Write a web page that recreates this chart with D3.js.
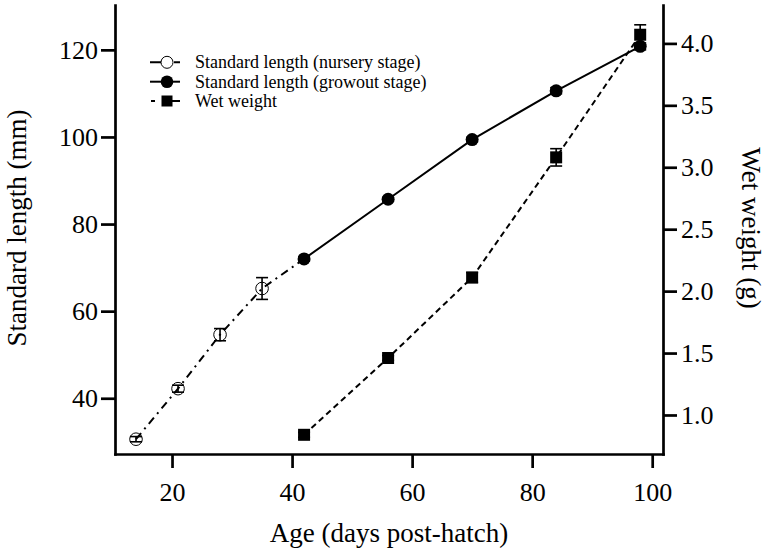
<!DOCTYPE html>
<html>
<head>
<meta charset="utf-8">
<script src="https://cdn.jsdelivr.net/npm/d3@7"></script>
<style>
  body { margin: 0; background: #fff; }
</style>
</head>
<body>
<svg id="chart" width="767" height="552"></svg>
<script>
// values
const nurseryDays = [14, 21, 28, 35];
const nurseryLength = [30.6, 42.2, 54.6, 65.2];
const nurseryErr = [0.6, 0.8, 1.4, 2.5];

const growoutDays = [42, 56, 70, 84, 98];
const growoutLength = [72.0, 85.7, 99.4, 110.6, 120.8];
const growoutErr = [0.5, 0.4, 0.5, 0.7, 0.8];

const weightDays = [42, 56, 70, 84, 98];
const wetWeight = [0.84, 1.46, 2.11, 3.08, 4.07];
const weightErr = [0.02, 0.02, 0.04, 0.07, 0.08];

const xTicks = [20, 40, 60, 80, 100];
const lengthTicks = [40, 60, 80, 100, 120];
const weightTicks = [1.0, 1.5, 2.0, 2.5, 3.0, 3.5, 4.0];

const legendLabels = [
  'Standard length (nursery stage)',
  'Standard length (growout stage)',
  'Wet weight'
];

const FONT = "'Liberation Serif', 'Times New Roman', Tinos, 'DejaVu Serif', serif";

const svg = d3.select('#chart').attr('font-family', FONT);
const plotL = 115, plotR = 663, plotT = 5, plotB = 454;

const x = d3.scaleLinear().domain([10.5, 101.8]).range([plotL, plotR]);
const yL = d3.scaleLinear().domain([27.2, 130.3]).range([plotB, plotT]);
const yR = d3.scaleLinear().domain([0.685, 4.31]).range([plotB, plotT]);

const zip = (xs, ys, es) => xs.map((d, i) => ({ x: d, y: ys[i], e: es[i] }));
const nursery = zip(nurseryDays, nurseryLength, nurseryErr);
const growout = zip(growoutDays, growoutLength, growoutErr);
const weight = zip(weightDays, wetWeight, weightErr);

function styleAxis(g, fontSize) {
  g.attr('font-family', FONT).attr('font-size', fontSize);
  g.select('.domain').attr('stroke-width', 2.7).attr('stroke-linecap', 'square');
  g.selectAll('.tick line').attr('stroke-width', 2.7);
  g.selectAll('.tick text').attr('font-family', FONT).attr('font-size', fontSize);
}

// axes
svg.append('g')
  .attr('transform', `translate(0,${plotB})`)
  .call(d3.axisBottom(x).tickValues(xTicks).tickSize(14).tickSizeOuter(0).tickPadding(14.5))
  .call(g => styleAxis(g, 26));

svg.append('g')
  .attr('transform', `translate(${plotL},0)`)
  .call(d3.axisLeft(yL).tickValues(lengthTicks).tickSize(14).tickSizeOuter(0).tickPadding(3))
  .call(g => styleAxis(g, 26));

svg.append('g')
  .attr('transform', `translate(${plotR},0)`)
  .call(d3.axisRight(yR).tickValues(weightTicks).tickSize(14).tickSizeOuter(0).tickPadding(4)
    .tickFormat(d3.format('.1f')))
  .call(g => styleAxis(g, 26));

// axis titles
svg.append('text')
  .attr('x', (plotL + plotR) / 2).attr('y', 542)
  .attr('text-anchor', 'middle').attr('font-size', 27).attr('font-family', FONT)
  .text('Age (days post-hatch)');

svg.append('text')
  .attr('transform', 'translate(26,228) rotate(-90)')
  .attr('text-anchor', 'middle').attr('font-size', 27).attr('font-family', FONT)
  .text('Standard length (mm)');

svg.append('text')
  .attr('transform', 'translate(742,228) rotate(90)')
  .attr('text-anchor', 'middle').attr('font-size', 27).attr('font-family', FONT)
  .text('Wet weight (g)');

// lines
const lineL = d3.line().x(d => x(d.x)).y(d => yL(d.y));
const lineR = d3.line().x(d => x(d.x)).y(d => yR(d.y));

svg.append('path')
  .datum(nursery.concat([growout[0]]))
  .attr('d', lineL)
  .attr('fill', 'none').attr('stroke', '#000').attr('stroke-width', 2)
  .attr('stroke-dasharray', '8,5,2,5');

svg.append('path')
  .datum(growout)
  .attr('d', lineL)
  .attr('fill', 'none').attr('stroke', '#000').attr('stroke-width', 2);

svg.append('path')
  .datum(weight)
  .attr('d', lineR)
  .attr('fill', 'none').attr('stroke', '#000').attr('stroke-width', 2)
  .attr('stroke-dasharray', '6,4');

// error bars
function errorBars(data, y) {
  const g = svg.append('g').attr('stroke', '#000').attr('stroke-width', 1.6);
  data.forEach(d => {
    const cx = x(d.x), y0 = y(d.y - d.e), y1 = y(d.y + d.e);
    g.append('line').attr('x1', cx).attr('x2', cx).attr('y1', y0).attr('y2', y1);
    g.append('line').attr('x1', cx - 6).attr('x2', cx + 6).attr('y1', y0).attr('y2', y0);
    g.append('line').attr('x1', cx - 6).attr('x2', cx + 6).attr('y1', y1).attr('y2', y1);
  });
}
errorBars(nursery, yL);
errorBars(growout, yL);
errorBars(weight, yR);

// markers
svg.append('g').selectAll('circle')
  .data(nursery).join('circle')
  .attr('cx', d => x(d.x)).attr('cy', d => yL(d.y)).attr('r', 6.3)
  .attr('fill', 'none').attr('stroke', '#000').attr('stroke-width', 1);

svg.append('g').selectAll('circle')
  .data(growout).join('circle')
  .attr('cx', d => x(d.x)).attr('cy', d => yL(d.y)).attr('r', 6.5)
  .attr('fill', '#000');

svg.append('g').selectAll('rect')
  .data(weight).join('rect')
  .attr('x', d => x(d.x) - 6).attr('y', d => yR(d.y) - 6)
  .attr('width', 12).attr('height', 12)
  .attr('fill', '#000');

// legend
const legendY = [62.3, 81.7, 101];
const lg = svg.append('g');

lg.append('line').attr('x1', 150).attr('x2', 180).attr('y1', legendY[0]).attr('y2', legendY[0])
  .attr('stroke', '#000').attr('stroke-width', 2).attr('stroke-dasharray', '12,12,8');
lg.append('circle').attr('cx', 167).attr('cy', legendY[0]).attr('r', 6)
  .attr('fill', '#fff').attr('stroke', '#000').attr('stroke-width', 1);

lg.append('line').attr('x1', 150).attr('x2', 180).attr('y1', legendY[1]).attr('y2', legendY[1])
  .attr('stroke', '#000').attr('stroke-width', 2);
lg.append('circle').attr('cx', 167).attr('cy', legendY[1]).attr('r', 6.3).attr('fill', '#000');

lg.append('line').attr('x1', 151).attr('x2', 180).attr('y1', legendY[2]).attr('y2', legendY[2])
  .attr('stroke', '#000').attr('stroke-width', 2).attr('stroke-dasharray', '4,7,20');
lg.append('rect').attr('x', 161.5).attr('y', legendY[2] - 5.5).attr('width', 11).attr('height', 11)
  .attr('fill', '#000');

lg.selectAll('text.leg')
  .data(legendLabels).join('text')
  .attr('class', 'leg')
  .attr('x', 195).attr('y', (d, i) => legendY[i])
  .attr('dy', '0.33em').attr('font-size', 18).attr('font-family', FONT)
  .text(d => d);
</script>
</body>
</html>
